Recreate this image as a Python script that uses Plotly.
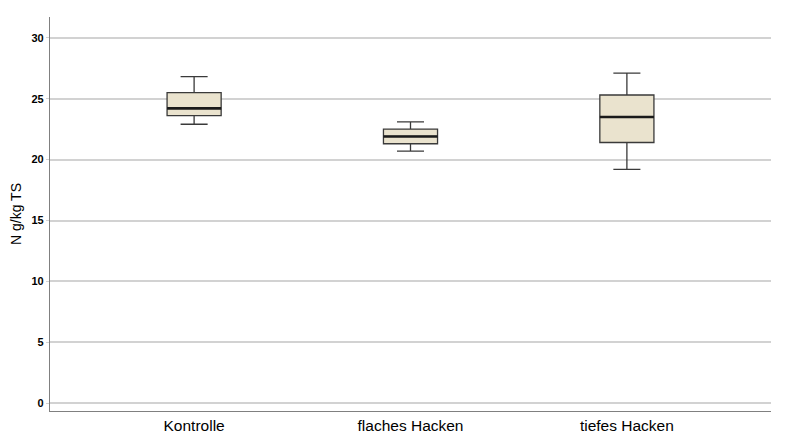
import plotly.graph_objects as go

categories = ["Kontrolle", "flaches Hacken", "tiefes Hacken"]
lower_whisker = [22.9, 20.7, 19.2]
q1_vals = [23.6, 21.3, 21.4]
medians = [24.2, 21.9, 23.5]
q3_vals = [25.5, 22.5, 25.3]
upper_whisker = [26.8, 23.1, 27.1]
y_ticks = [0, 5, 10, 15, 20, 25, 30]

box_width = 0.25
positions = list(range(len(categories)))

fig = go.Figure()
fig.add_trace(go.Box(
    x=positions,
    q1=q1_vals, median=medians, q3=q3_vals,
    lowerfence=lower_whisker, upperfence=upper_whisker,
    width=box_width, whiskerwidth=0.5,
    fillcolor="#EAE3CE",
    line=dict(color="#3a3a3a", width=1.3),
    hoverinfo="skip",
    showlegend=False,
))
# thicker median lines
for p, m in zip(positions, medians):
    fig.add_trace(go.Scatter(
        x=[p - box_width / 2, p + box_width / 2], y=[m, m],
        mode="lines", line=dict(color="#1a1a1a", width=2.6),
        showlegend=False, hoverinfo="skip",
    ))

fig.update_layout(
    width=783, height=427,
    margin=dict(l=42, r=20, t=9, b=24),
    plot_bgcolor="white", paper_bgcolor="white",
    font=dict(family="Arial, Liberation Sans, sans-serif", color="black"),
    xaxis=dict(
        range=[-0.666, 2.666],
        tickvals=positions, ticktext=categories,
        tickfont=dict(size=15.5),
        showgrid=False, zeroline=False,
        showline=True, linecolor="#808080", linewidth=1.3,
        ticks="", automargin=False,
    ),
    yaxis=dict(
        range=[-0.63, 31.7],
        tickvals=y_ticks,
        tickfont=dict(size=11, weight="bold"),
        showgrid=True, gridcolor="#d2d2d2", gridwidth=1.6,
        zeroline=False,
        showline=True, linecolor="#808080", linewidth=1.3,
        ticks="outside", ticklen=3, tickcolor="#d2d2d2",
        automargin=False,
        title=dict(text="N g/kg TS", font=dict(size=14), standoff=10),
    ),
)

fig.write_html("out.html")
